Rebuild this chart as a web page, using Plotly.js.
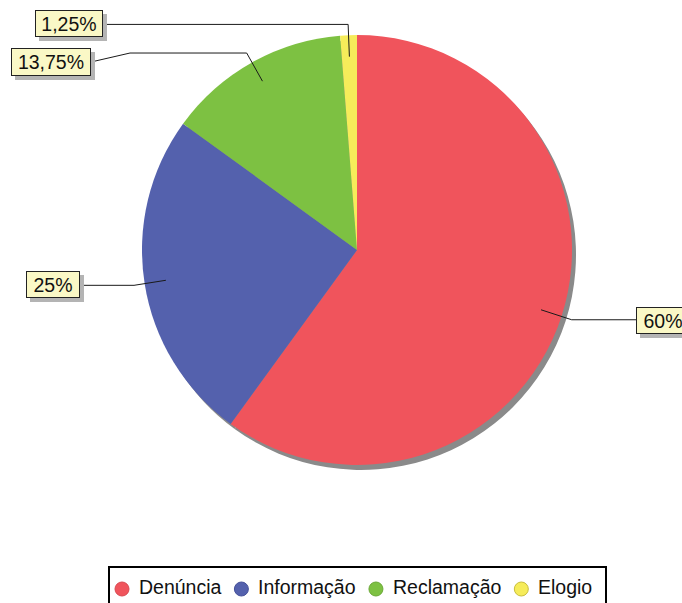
<!DOCTYPE html>
<html>
<head>
<meta charset="utf-8">
<script src="https://cdn.plot.ly/plotly-3.0.1.min.js"></script>
<style>html,body{margin:0;padding:0;background:#fff}#chart{width:682px;height:603px}</style>
</head>
<body>
<div id="chart"></div>
<script>
// ---- data ----
const categories = ['Denúncia', 'Informação', 'Reclamação', 'Elogio'];
const values = [60, 25, 13.75, 1.25];
const valueLabels = ['60%', '25%', '13,75%', '1,25%'];
const colors = ['#F0545C', '#5461AD', '#7DC142', '#F6EC5A'];
const legendEdge = ['#D94850', '#46519A', '#6AA836', '#C9BE3C'];

// ---- layout config (pixels) ----
const W = 682, H = 603;
const CX = 357, CY = 250, R = 215;
const SHADOW = {dx: 4, dy: 5};
const FONT = 'Liberation Sans, Arial, sans-serif';
const LABEL_SIZE = 19.5, LEGEND_SIZE = 19.5;
// label box rectangles: left, top, width, height; optional knot x for an extra bend
const boxes = [
  {l: 636, t: 307, w: 54, h: 27, side: 'left'},
  {l: 26, t: 271, w: 54, h: 27, side: 'right'},
  {l: 11, t: 48, w: 80, h: 28, side: 'right', knotX: 130},
  {l: 35, t: 10, w: 68, h: 27, side: 'right'}
];
const LEG = {l: 109, t: 567, r: 606, b: 612, x0: 122, cy: 589, ty: 587, d: 14, gapText: 16, gapItem: 21};

function domainFor(dx, dy) {
  return {
    x: [(CX + dx - R) / W, (CX + dx + R) / W],
    y: [(H - (CY + dy) - R) / H, (H - (CY + dy) + R) / H]
  };
}

const total = values.reduce((a, b) => a + b, 0);
const shapes = [];
const annotations = [];
let acc = 0;
values.forEach((v, i) => {
  const mid = (acc + v / 2) / total * 2 * Math.PI;
  acc += v;
  const pt = (r) => [CX + r * Math.sin(mid), CY - r * Math.cos(mid)];
  const inner = pt(R * 0.9);
  const elbow = pt(R * 1.05);
  const b = boxes[i];
  const edgeX = b.side === 'left' ? b.l : b.l + b.w;
  const by = b.t + b.h / 2;
  let path = `M${inner[0]},${inner[1]} L${elbow[0]},${elbow[1]}`;
  if (b.knotX !== undefined) {
    path += ` L${b.knotX},${elbow[1]} L${edgeX},${by}`;
  } else {
    path += ` L${edgeX},${elbow[1]}`;
  }
  shapes.push({type: 'path', xref: 'x', yref: 'y', path: path,
    line: {color: '#1a1a1a', width: 1}, layer: 'above'});
  shapes.push({type: 'rect', xref: 'x', yref: 'y',
    x0: b.l + 4, x1: b.l + b.w + 4, y0: b.t + 4, y1: b.t + b.h + 4,
    fillcolor: '#b4b4b4', line: {width: 0}, layer: 'above'});
  annotations.push({
    xref: 'x', yref: 'y', x: b.l + b.w / 2, y: by,
    xanchor: 'center', yanchor: 'middle',
    text: valueLabels[i], showarrow: false,
    width: b.w - 2, height: b.h - 2, borderpad: 0,
    bgcolor: '#FAF8C6', bordercolor: '#222', borderwidth: 1,
    font: {family: FONT, size: LABEL_SIZE, color: '#111'}
  });
});

// ---- legend (drawn from the category list) ----
const ctx = document.createElement('canvas').getContext('2d');
ctx.font = LEGEND_SIZE + 'px "Liberation Sans", Arial, sans-serif';
shapes.push({type: 'rect', xref: 'x', yref: 'y', x0: LEG.l, x1: LEG.r, y0: LEG.t, y1: LEG.b,
  fillcolor: '#fff', line: {color: '#000', width: 2}, layer: 'above'});
let lx = LEG.x0;
categories.forEach((c, i) => {
  shapes.push({type: 'circle', xref: 'x', yref: 'y',
    x0: lx - LEG.d / 2, x1: lx + LEG.d / 2, y0: LEG.cy - LEG.d / 2, y1: LEG.cy + LEG.d / 2,
    fillcolor: colors[i], line: {color: legendEdge[i], width: 1}, layer: 'above'});
  const tx = lx + LEG.gapText;
  annotations.push({xref: 'x', yref: 'y', x: tx, y: LEG.ty, xanchor: 'left', yanchor: 'middle',
    text: c, showarrow: false, borderpad: 0,
    font: {family: FONT, size: LEGEND_SIZE, color: '#111'}});
  lx = tx + ctx.measureText(c).width + LEG.gapItem;
});

const traces = [
  {type: 'pie', values: values, labels: categories, sort: false,
   direction: 'clockwise', rotation: 0, textinfo: 'none', hoverinfo: 'skip',
   showlegend: false, domain: domainFor(SHADOW.dx, SHADOW.dy),
   marker: {colors: values.map(() => '#8a8a8a'), line: {width: 0}}},
  {type: 'pie', values: values, labels: categories, sort: false,
   direction: 'clockwise', rotation: 0, textinfo: 'none', hoverinfo: 'label+percent',
   showlegend: false, domain: domainFor(0, 0),
   marker: {colors: colors, line: {width: 0}}}
];

const layout = {
  width: W, height: H,
  margin: {l: 0, r: 0, t: 0, b: 0},
  paper_bgcolor: '#fff', plot_bgcolor: 'rgba(0,0,0,0)',
  font: {family: FONT, size: LABEL_SIZE, color: '#111'},
  xaxis: {range: [0, W], visible: false, fixedrange: true},
  yaxis: {range: [H, 0], visible: false, fixedrange: true},
  showlegend: false,
  shapes: shapes,
  annotations: annotations
};

Plotly.newPlot('chart', traces, layout, {displayModeBar: false});
</script>
</body>
</html>
